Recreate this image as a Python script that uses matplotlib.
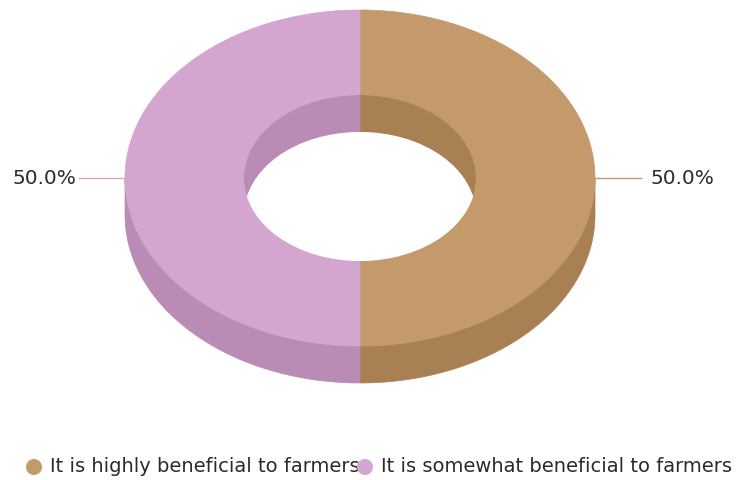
import numpy as np
import matplotlib
matplotlib.use("Agg")
import matplotlib.pyplot as plt
from matplotlib.patches import Polygon, Ellipse, Circle

labels = ['It is highly beneficial to farmers', 'It is somewhat beneficial to farmers']
values = [50.0, 50.0]
top_colors = ['#C49A6C', '#D4A5CF']
side_colors = ['#A98053', '#B98BB5']

# geometry in pixel units
cx, cy = 360, 178
rx, ry = 235, 168
irx, iry = 116, 83
depth = 37

fig = plt.figure(figsize=(7.36, 4.8), dpi=100)
ax = fig.add_axes([0, 0, 1, 1])
ax.set_xlim(0, 736)
ax.set_ylim(480, 0)
ax.axis('off')


def arc(a0, a1, rxx, ryy, dy=0, n=200):
    t = np.radians(np.linspace(a0, a1, n))
    return np.column_stack([cx + rxx * np.cos(t), cy + dy - ryy * np.sin(t)])


# slice angles: start at top, go clockwise
total = sum(values)
starts, ends = [], []
a = 90.0
for v in values:
    starts.append(a)
    a -= 360.0 * v / total
    ends.append(a)


def overlap(s, e, lo, hi):
    # s > e (clockwise); return parts within [lo, hi] across 360 wraps
    out = []
    for k in (-720, -360, 0, 360):
        a0, a1 = max(e, lo + k), min(s, hi + k)
        if a1 > a0:
            out.append((a1, a0))
    return out


# outer front walls (lower half of ellipse)
for s, e, c in zip(starts, ends, side_colors):
    for a1, a0 in overlap(s, e, 180, 360):
        top = arc(a1, a0, rx, ry)
        bot = arc(a0, a1, rx, ry, depth)
        ax.add_patch(Polygon(np.vstack([top, bot]), closed=True, fc=c, ec=c, lw=0.5, zorder=1))

# top faces
for s, e, c in zip(starts, ends, top_colors):
    outer = arc(s, e, rx, ry)
    inner = arc(e, s, irx, iry)
    ax.add_patch(Polygon(np.vstack([outer, inner]), closed=True, fc=c, ec=c, lw=0.5, zorder=2))

# hole: far inner walls, then see-through part
hole = Ellipse((cx, cy), 2 * irx, 2 * iry, fc='none', ec='none')
ax.add_patch(hole)
for s, e, c in zip(starts, ends, side_colors):
    for a1, a0 in overlap(s, e, 0, 180):
        top = arc(a1, a0, irx, iry)
        bot = arc(a0, a1, irx, iry, depth)
        p = Polygon(np.vstack([top, bot]), closed=True, fc=c, ec=c, lw=0.5, zorder=3)
        ax.add_patch(p)
        p.set_clip_path(hole)
through = Ellipse((cx, cy + depth), 2 * irx, 2 * iry, fc='white', ec='none', zorder=4)
ax.add_patch(through)
through.set_clip_path(hole)

# percentage labels with leader lines
for s, e, v, c in zip(starts, ends, values, top_colors):
    mid = np.radians((s + e) / 2)
    side = 1 if np.cos(mid) >= 0 else -1
    x0 = cx + rx * np.cos(mid)
    y0 = cy - ry * np.sin(mid)
    x1 = x0 + side * 46
    gap = 10 if side > 0 else 3
    ax.plot([x0, x1], [y0, y0], color=c, lw=1, zorder=5)
    ax.text(x1 + side * gap, y0, f'{v / total * 100:.1f}%', ha='left' if side > 0 else 'right',
            va='center', fontsize=14.4, color='#2b2b2b', zorder=6)

# legend
leg_x = [34, 365]
for x, lab, c in zip(leg_x, labels, top_colors):
    ax.add_patch(Circle((x, 467), 8, fc=c, ec='none', zorder=5))
    ax.text(x + 16, 467, lab, ha='left', va='center', fontsize=14, color='#2b2b2b', zorder=4)

plt.savefig('out.png', dpi=100)
